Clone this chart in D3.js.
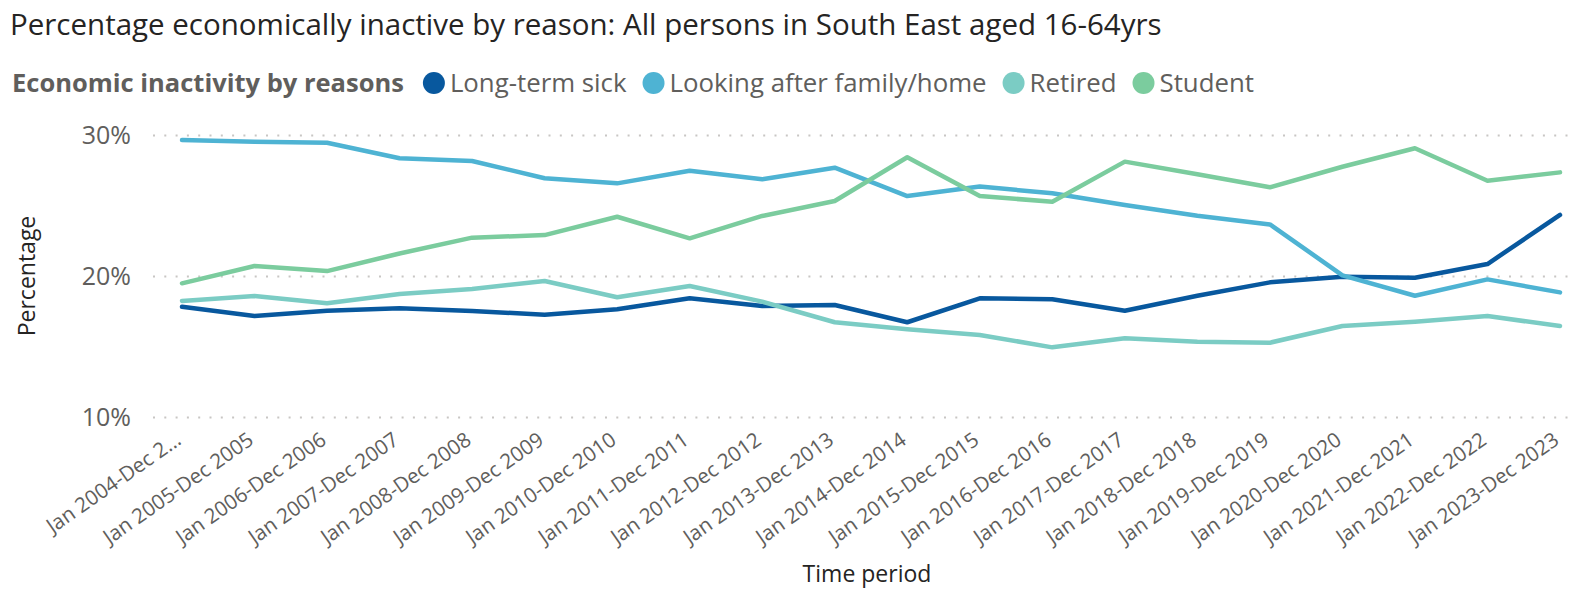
<!DOCTYPE html>
<html>
<head>
<meta charset="utf-8">
<script src="https://cdn.jsdelivr.net/npm/d3@7"></script>
<style>
  body { margin: 0; background: #fff; }
  svg { display: block; font-family: "Open Sans", "Noto Sans", sans-serif; }
</style>
</head>
<body>
<svg id="chart" width="1576" height="589"></svg>
<script>
// Annual periods (Jan–Dec) for the South East, persons aged 16-64
const periods = [
  "Jan 2004-Dec 2004", "Jan 2005-Dec 2005", "Jan 2006-Dec 2006", "Jan 2007-Dec 2007",
  "Jan 2008-Dec 2008", "Jan 2009-Dec 2009", "Jan 2010-Dec 2010", "Jan 2011-Dec 2011",
  "Jan 2012-Dec 2012", "Jan 2013-Dec 2013", "Jan 2014-Dec 2014", "Jan 2015-Dec 2015",
  "Jan 2016-Dec 2016", "Jan 2017-Dec 2017", "Jan 2018-Dec 2018", "Jan 2019-Dec 2019",
  "Jan 2020-Dec 2020", "Jan 2021-Dec 2021", "Jan 2022-Dec 2022", "Jan 2023-Dec 2023"
];
// Category axis labels as displayed (long first label is clipped)
const tickLabels = [
  "Jan 2004-Dec 2...", "Jan 2005-Dec 2005", "Jan 2006-Dec 2006", "Jan 2007-Dec 2007",
  "Jan 2008-Dec 2008", "Jan 2009-Dec 2009", "Jan 2010-Dec 2010", "Jan 2011-Dec 2011",
  "Jan 2012-Dec 2012", "Jan 2013-Dec 2013", "Jan 2014-Dec 2014", "Jan 2015-Dec 2015",
  "Jan 2016-Dec 2016", "Jan 2017-Dec 2017", "Jan 2018-Dec 2018", "Jan 2019-Dec 2019",
  "Jan 2020-Dec 2020", "Jan 2021-Dec 2021", "Jan 2022-Dec 2022", "Jan 2023-Dec 2023"
];

// Percentage of economically inactive people, by reason
const longTermSick       = [17.82, 17.16, 17.54, 17.71, 17.52, 17.25, 17.64, 18.42, 17.87, 17.94,
                            16.72, 18.42, 18.35, 17.54, 18.60, 19.55, 19.95, 19.88, 20.85, 24.33];
const lookingAfterFamily = [29.65, 29.53, 29.45, 28.35, 28.16, 26.93, 26.57, 27.47, 26.86, 27.68,
                            25.67, 26.34, 25.87, 25.04, 24.28, 23.66, 20.05, 18.60, 19.76, 18.84];
const retired            = [18.23, 18.58, 18.06, 18.72, 19.08, 19.65, 18.49, 19.29, 18.18, 16.72,
                            16.22, 15.82, 14.94, 15.58, 15.34, 15.27, 16.45, 16.76, 17.16, 16.45];
const student            = [19.48, 20.71, 20.35, 21.60, 22.72, 22.90, 24.20, 22.67, 24.26, 25.32,
                            28.42, 25.67, 25.27, 28.11, 27.21, 26.29, 27.75, 29.06, 26.76, 27.35];

const seriesNames  = ["Long-term sick", "Looking after family/home", "Retired", "Student"];
const seriesColors = ["#08589e", "#4eb3d3", "#7bccc4", "#7bcc9e"];
const yTicks = [10, 20, 30];

const series = [
  { name: seriesNames[0], color: seriesColors[0], values: longTermSick },
  { name: seriesNames[1], color: seriesColors[1], values: lookingAfterFamily },
  { name: seriesNames[2], color: seriesColors[2], values: retired },
  { name: seriesNames[3], color: seriesColors[3], values: student }
];

const svg = d3.select("#chart");
const textDark = "#252423";
const textGrey = "#605e5c";

// Plot area
const plot = { left: 182, right: 1560, top: 135, bottom: 417 };

const x = d3.scalePoint().domain(periods).range([plot.left, plot.right]);
const y = d3.scaleLinear().domain([10, 30]).range([plot.bottom, plot.top]);

// Title
svg.append("text")
  .attr("x", 10).attr("y", 35)
  .attr("font-size", 29.5)
  .attr("fill", textDark)
  .text("Percentage economically inactive by reason: All persons in South East aged 16-64yrs");

// Legend, laid out left to right
const legend = svg.append("g").attr("transform", "translate(0,83)");
const legendTitle = legend.append("text")
  .attr("x", 12).attr("dy", "0.35em")
  .attr("font-size", 25.5).attr("font-weight", 700)
  .attr("fill", textGrey)
  .text("Economic inactivity by reasons");
let lx = 12 + legendTitle.node().getComputedTextLength() + 30;
series.forEach(s => {
  legend.append("circle").attr("cx", lx).attr("cy", 0).attr("r", 11).attr("fill", s.color);
  const t = legend.append("text")
    .attr("x", lx + 16).attr("dy", "0.35em")
    .attr("font-size", 25.8).attr("fill", textGrey)
    .text(s.name);
  lx += 16 + t.node().getComputedTextLength() + 27;
});

// Horizontal dotted gridlines with value labels
const yAxis = d3.axisLeft(y).tickValues(yTicks).tickFormat(d => d + "%")
  .tickSize(-(1576 - 153)).tickPadding(22);
const yg = svg.append("g").attr("transform", `translate(153,0)`).call(yAxis);
yg.select(".domain").remove();
yg.selectAll(".tick line")
  .attr("stroke", "#c8c6c4").attr("stroke-width", 2)
  .attr("stroke-dasharray", "2,9.3");
yg.selectAll(".tick text")
  .attr("font-size", 25).attr("fill", textGrey)
  .attr("font-family", "\"Open Sans\", sans-serif");

// Category axis with rotated labels
const xAxis = d3.axisBottom(x).tickSize(0).tickFormat((d, i) => tickLabels[i]);
const xg = svg.append("g").attr("transform", `translate(0,${plot.bottom})`).call(xAxis);
xg.select(".domain").remove();
xg.selectAll(".tick text")
  .attr("font-size", 20.6).attr("fill", textGrey)
  .attr("font-family", "\"Open Sans\", sans-serif")
  .attr("text-anchor", "end")
  .attr("x", 0).attr("y", 0).attr("dy", 0)
  .attr("transform", "translate(0,26) rotate(-35)");

// Axis titles
svg.append("text")
  .attr("x", (plot.left + plot.right) / 2 - 4).attr("y", 582)
  .attr("text-anchor", "middle").attr("font-size", 23).attr("fill", textDark)
  .text("Time period");
svg.append("text")
  .attr("transform", `translate(35,${(plot.top + plot.bottom) / 2}) rotate(-90)`)
  .attr("text-anchor", "middle").attr("font-size", 23).attr("fill", textDark)
  .text("Percentage");

// Series lines
const line = d3.line().x((d, i) => x(periods[i])).y(d => y(d));
svg.append("g").selectAll("path")
  .data(series)
  .join("path")
  .attr("d", d => line(d.values))
  .attr("fill", "none")
  .attr("stroke", d => d.color)
  .attr("stroke-width", 4.5)
  .attr("stroke-linejoin", "round")
  .attr("stroke-linecap", "round");
</script>
</body>
</html>
